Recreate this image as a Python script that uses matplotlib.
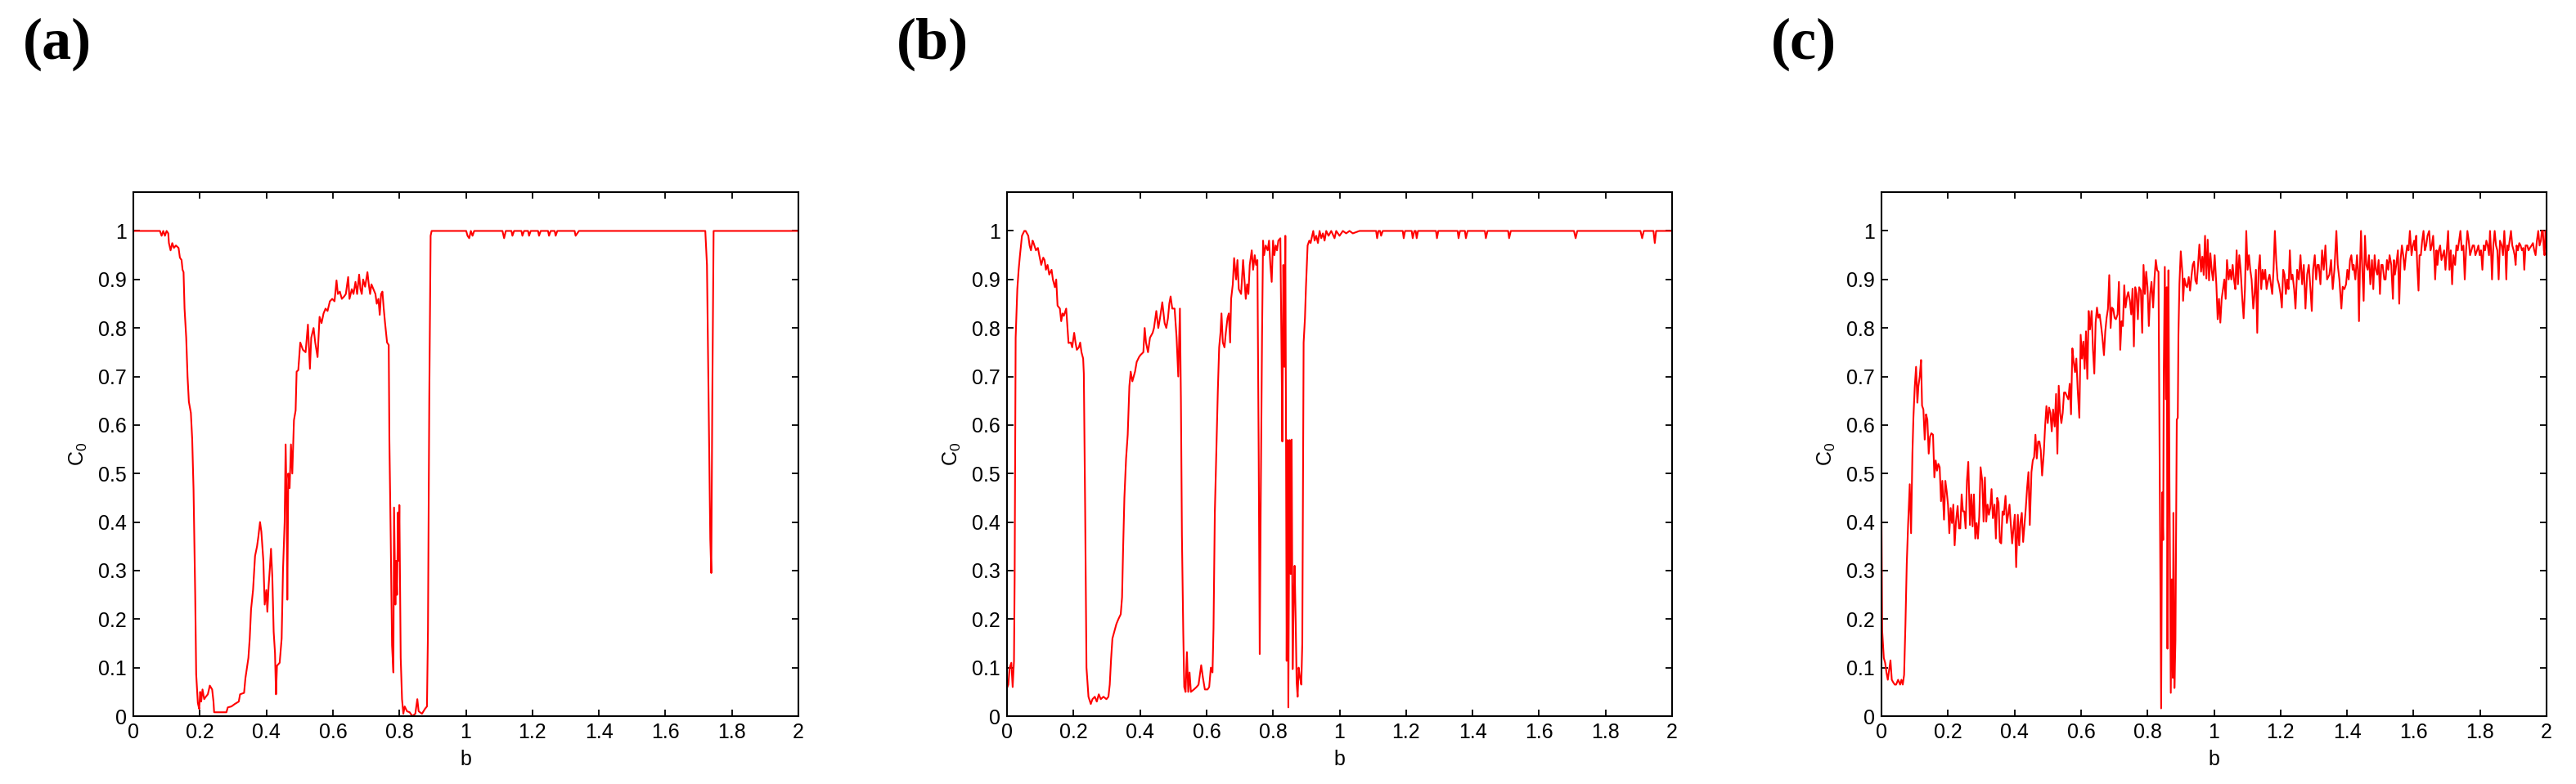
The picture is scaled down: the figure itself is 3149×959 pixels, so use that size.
import matplotlib
matplotlib.use("Agg")
from matplotlib import pyplot as plt

# (b, C0) samples
panel_a = [
    (0, 1.0), (0.08, 1.0), (0.085, 0.99), (0.09, 1.0), (0.095, 0.99), (0.1, 1.0),
    (0.105, 0.995), (0.107, 0.975), (0.112, 0.96), (0.117, 0.975), (0.122, 0.965),
    (0.128, 0.97), (0.136, 0.965), (0.14, 0.945), (0.145, 0.94), (0.148, 0.92),
    (0.151, 0.915), (0.154, 0.84), (0.159, 0.78), (0.163, 0.70), (0.167, 0.648),
    (0.173, 0.625), (0.177, 0.571), (0.181, 0.468), (0.186, 0.251), (0.189, 0.086),
    (0.194, 0.027), (0.198, 0.015), (0.201, 0.05), (0.204, 0.03), (0.208, 0.055),
    (0.213, 0.035), (0.218, 0.04), (0.224, 0.045), (0.23, 0.063), (0.237, 0.055),
    (0.241, 0.03), (0.243, 0.008), (0.28, 0.008), (0.284, 0.018), (0.295, 0.02),
    (0.305, 0.025), (0.317, 0.03), (0.321, 0.045), (0.333, 0.048), (0.337, 0.078),
    (0.346, 0.12), (0.35, 0.16), (0.354, 0.22), (0.36, 0.26), (0.366, 0.33),
    (0.372, 0.35), (0.376, 0.37), (0.381, 0.40), (0.385, 0.38), (0.391, 0.32),
    (0.395, 0.23), (0.4, 0.26), (0.403, 0.215), (0.407, 0.27), (0.411, 0.31),
    (0.414, 0.345), (0.418, 0.286), (0.422, 0.174), (0.426, 0.13), (0.429, 0.045),
    (0.432, 0.104), (0.44, 0.11), (0.446, 0.16), (0.45, 0.30), (0.455, 0.40),
    (0.458, 0.56), (0.461, 0.44), (0.463, 0.24), (0.466, 0.50), (0.47, 0.47),
    (0.474, 0.56), (0.478, 0.50), (0.483, 0.61), (0.488, 0.63), (0.491, 0.71),
    (0.496, 0.713), (0.502, 0.77), (0.51, 0.755), (0.518, 0.75), (0.525, 0.807),
    (0.531, 0.716), (0.535, 0.78), (0.542, 0.80), (0.547, 0.77), (0.554, 0.74),
    (0.56, 0.823), (0.566, 0.81), (0.572, 0.83), (0.578, 0.84), (0.584, 0.835),
    (0.591, 0.855), (0.598, 0.86), (0.605, 0.855), (0.611, 0.898), (0.615, 0.87),
    (0.621, 0.875), (0.627, 0.86), (0.634, 0.865), (0.639, 0.87), (0.646, 0.905),
    (0.65, 0.86), (0.657, 0.88), (0.662, 0.87), (0.668, 0.895), (0.673, 0.87),
    (0.679, 0.91), (0.683, 0.88), (0.687, 0.87), (0.691, 0.9), (0.697, 0.885),
    (0.704, 0.915), (0.708, 0.89), (0.712, 0.87), (0.716, 0.89), (0.722, 0.88),
    (0.728, 0.87), (0.732, 0.85), (0.737, 0.86), (0.741, 0.827), (0.745, 0.87),
    (0.749, 0.875), (0.753, 0.84), (0.757, 0.81), (0.763, 0.77), (0.768, 0.765),
    (0.77, 0.569), (0.774, 0.366), (0.778, 0.146), (0.782, 0.09), (0.784, 0.43),
    (0.788, 0.23), (0.79, 0.32), (0.793, 0.25), (0.796, 0.42), (0.798, 0.32),
    (0.8, 0.435), (0.804, 0.12), (0.808, 0.035), (0.812, 0.005), (0.816, 0.02),
    (0.823, 0.01), (0.831, 0.008), (0.839, 0.0), (0.848, 0.005), (0.854, 0.035),
    (0.858, 0.01), (0.868, 0.005), (0.877, 0.015), (0.883, 0.02), (0.886, 0.177),
    (0.89, 0.657), (0.894, 0.99), (0.897, 1.0), (1.001, 1.0), (1.005, 0.99),
    (1.01, 0.985), (1.015, 1.0), (1.02, 0.99), (1.025, 1.0), (1.11, 1.0),
    (1.115, 0.985), (1.12, 1.0), (1.137, 1.0), (1.14, 0.99), (1.145, 1.0),
    (1.167, 1.0), (1.17, 0.99), (1.175, 1.0), (1.187, 1.0), (1.19, 0.99),
    (1.195, 1.0), (1.217, 1.0), (1.22, 0.99), (1.225, 1.0), (1.247, 1.0),
    (1.25, 0.99), (1.255, 1.0), (1.267, 1.0), (1.27, 0.99), (1.275, 1.0),
    (1.327, 1.0), (1.33, 0.99), (1.335, 0.995), (1.34, 1.0), (1.72, 1.0),
    (1.725, 0.93), (1.73, 0.65), (1.735, 0.365), (1.738, 0.295), (1.741, 0.65),
    (1.745, 1.0), (2.0, 1.0),
]

panel_b = [
    (0, 0.058), (0.004, 0.065), (0.008, 0.1), (0.013, 0.11), (0.017, 0.06),
    (0.021, 0.114), (0.023, 0.286), (0.026, 0.78), (0.031, 0.88), (0.035, 0.92),
    (0.039, 0.95), (0.045, 0.99), (0.052, 1.0), (0.056, 1.0), (0.06, 0.995),
    (0.064, 0.99), (0.068, 0.97), (0.072, 0.96), (0.077, 0.98), (0.08, 0.975),
    (0.087, 0.96), (0.093, 0.965), (0.097, 0.95), (0.103, 0.93), (0.109, 0.945),
    (0.113, 0.94), (0.117, 0.92), (0.122, 0.93), (0.127, 0.91), (0.134, 0.92),
    (0.138, 0.9), (0.144, 0.884), (0.148, 0.9), (0.152, 0.846), (0.159, 0.84),
    (0.163, 0.814), (0.167, 0.83), (0.171, 0.825), (0.178, 0.84), (0.182, 0.8),
    (0.185, 0.769), (0.192, 0.77), (0.196, 0.76), (0.202, 0.79), (0.206, 0.77),
    (0.21, 0.755), (0.216, 0.76), (0.22, 0.77), (0.224, 0.75), (0.229, 0.737),
    (0.231, 0.706), (0.235, 0.426), (0.239, 0.1), (0.245, 0.04), (0.252, 0.025),
    (0.257, 0.035), (0.264, 0.04), (0.27, 0.03), (0.276, 0.045), (0.282, 0.035),
    (0.29, 0.04), (0.299, 0.035), (0.305, 0.04), (0.309, 0.065), (0.313, 0.118),
    (0.317, 0.16), (0.323, 0.175), (0.329, 0.19), (0.335, 0.2), (0.342, 0.21),
    (0.346, 0.245), (0.349, 0.34), (0.353, 0.45), (0.358, 0.53), (0.363, 0.58),
    (0.368, 0.68), (0.372, 0.71), (0.377, 0.69), (0.385, 0.71), (0.39, 0.73),
    (0.397, 0.74), (0.401, 0.744), (0.41, 0.75), (0.414, 0.8), (0.418, 0.77),
    (0.424, 0.75), (0.43, 0.78), (0.438, 0.79), (0.442, 0.8), (0.449, 0.835),
    (0.455, 0.8), (0.46, 0.82), (0.467, 0.853), (0.474, 0.81), (0.479, 0.8),
    (0.484, 0.82), (0.488, 0.85), (0.492, 0.865), (0.497, 0.84), (0.504, 0.84),
    (0.51, 0.78), (0.515, 0.7), (0.52, 0.84), (0.523, 0.653), (0.526, 0.373),
    (0.53, 0.174), (0.533, 0.06), (0.537, 0.05), (0.541, 0.132), (0.545, 0.05),
    (0.549, 0.09), (0.553, 0.05), (0.562, 0.055), (0.57, 0.06), (0.576, 0.065),
    (0.58, 0.085), (0.584, 0.105), (0.589, 0.08), (0.595, 0.055), (0.603, 0.055),
    (0.608, 0.06), (0.613, 0.1), (0.618, 0.09), (0.621, 0.18), (0.625, 0.42),
    (0.63, 0.56), (0.634, 0.67), (0.638, 0.76), (0.642, 0.79), (0.645, 0.83),
    (0.649, 0.77), (0.654, 0.76), (0.658, 0.79), (0.663, 0.82), (0.667, 0.83),
    (0.671, 0.77), (0.674, 0.86), (0.679, 0.89), (0.683, 0.944), (0.689, 0.9),
    (0.693, 0.94), (0.697, 0.88), (0.704, 0.87), (0.71, 0.94), (0.714, 0.9),
    (0.718, 0.86), (0.722, 0.89), (0.726, 0.87), (0.73, 0.93), (0.736, 0.96),
    (0.74, 0.92), (0.745, 0.95), (0.749, 0.93), (0.753, 0.94), (0.757, 0.527),
    (0.76, 0.128), (0.763, 0.44), (0.767, 0.786), (0.77, 0.98), (0.773, 0.95),
    (0.778, 0.97), (0.784, 0.96), (0.788, 0.98), (0.792, 0.93), (0.796, 0.895),
    (0.8, 0.98), (0.804, 0.95), (0.808, 0.97), (0.812, 0.96), (0.816, 0.98),
    (0.822, 0.985), (0.826, 0.72), (0.828, 0.566), (0.831, 0.93), (0.834, 0.72),
    (0.837, 0.99), (0.839, 0.597), (0.841, 0.114), (0.844, 0.569), (0.846, 0.018),
    (0.85, 0.569), (0.853, 0.293), (0.856, 0.57), (0.859, 0.097), (0.862, 0.24),
    (0.865, 0.31), (0.868, 0.2), (0.871, 0.07), (0.874, 0.04), (0.877, 0.1),
    (0.881, 0.08), (0.885, 0.065), (0.888, 0.15), (0.892, 0.77), (0.896, 0.82),
    (0.899, 0.884), (0.904, 0.97), (0.909, 0.98), (0.913, 0.975), (0.916, 0.985),
    (0.921, 1.0), (0.925, 0.98), (0.93, 0.99), (0.935, 0.975), (0.94, 1.0),
    (0.945, 0.985), (0.95, 0.995), (0.955, 0.98), (0.96, 1.0), (0.967, 0.99),
    (0.975, 1.0), (0.985, 0.985), (0.99, 1.0), (1.0, 0.99), (1.01, 1.0),
    (1.02, 0.995), (1.03, 1.0), (1.04, 0.995), (1.06, 1.0), (1.11, 1.0),
    (1.113, 0.985), (1.117, 1.0), (1.122, 1.0), (1.125, 0.99), (1.13, 1.0),
    (1.19, 1.0), (1.193, 0.985), (1.197, 1.0), (1.217, 1.0), (1.22, 0.985),
    (1.225, 1.0), (1.229, 1.0), (1.232, 0.985), (1.236, 1.0), (1.29, 1.0),
    (1.293, 0.985), (1.297, 1.0), (1.355, 1.0), (1.358, 0.985), (1.362, 1.0),
    (1.377, 1.0), (1.38, 0.985), (1.385, 1.0), (1.437, 1.0), (1.44, 0.985),
    (1.445, 1.0), (1.507, 1.0), (1.51, 0.985), (1.515, 1.0), (1.705, 1.0),
    (1.71, 0.985), (1.715, 1.0), (1.905, 1.0), (1.91, 0.985), (1.915, 1.0),
    (1.944, 1.0), (1.948, 0.975), (1.952, 1.0), (2.0, 1.0),
]

panel_c = [
    (0, 0.405), (0.002, 0.177), (0.007, 0.12), (0.011, 0.11), (0.015, 0.09),
    (0.019, 0.075), (0.023, 0.095), (0.027, 0.115), (0.031, 0.075), (0.035, 0.07),
    (0.04, 0.065), (0.044, 0.065), (0.05, 0.075), (0.056, 0.065), (0.06, 0.075),
    (0.064, 0.065), (0.068, 0.085), (0.072, 0.188), (0.076, 0.314), (0.08, 0.394),
    (0.085, 0.478), (0.089, 0.377), (0.093, 0.541), (0.096, 0.615), (0.1, 0.678),
    (0.104, 0.72), (0.108, 0.646), (0.111, 0.68), (0.115, 0.70), (0.119, 0.734),
    (0.122, 0.64), (0.126, 0.632), (0.13, 0.57), (0.134, 0.622), (0.138, 0.611),
    (0.142, 0.541), (0.146, 0.576), (0.15, 0.583), (0.155, 0.58), (0.159, 0.492),
    (0.163, 0.527), (0.167, 0.506), (0.171, 0.52), (0.175, 0.513), (0.179, 0.443),
    (0.183, 0.485), (0.188, 0.405), (0.192, 0.485), (0.196, 0.464), (0.2, 0.436),
    (0.204, 0.377), (0.208, 0.429), (0.212, 0.398), (0.216, 0.436), (0.22, 0.352),
    (0.224, 0.401), (0.229, 0.433), (0.233, 0.387), (0.237, 0.387), (0.241, 0.457),
    (0.245, 0.422), (0.249, 0.422), (0.253, 0.387), (0.257, 0.485), (0.261, 0.524),
    (0.266, 0.394), (0.27, 0.457), (0.274, 0.391), (0.278, 0.457), (0.282, 0.366),
    (0.286, 0.398), (0.29, 0.366), (0.294, 0.412), (0.298, 0.513), (0.303, 0.485),
    (0.307, 0.401), (0.311, 0.492), (0.315, 0.401), (0.319, 0.436), (0.323, 0.415),
    (0.327, 0.429), (0.331, 0.468), (0.335, 0.408), (0.34, 0.436), (0.344, 0.366),
    (0.348, 0.45), (0.352, 0.44), (0.356, 0.359), (0.36, 0.356), (0.364, 0.422),
    (0.368, 0.415), (0.373, 0.454), (0.377, 0.398), (0.381, 0.415), (0.385, 0.436),
    (0.389, 0.394), (0.393, 0.356), (0.397, 0.387), (0.401, 0.415), (0.405, 0.307),
    (0.41, 0.415), (0.414, 0.352), (0.418, 0.401), (0.422, 0.419), (0.426, 0.359),
    (0.43, 0.394), (0.434, 0.429), (0.438, 0.471), (0.442, 0.503), (0.446, 0.394),
    (0.451, 0.503), (0.455, 0.527), (0.459, 0.534), (0.463, 0.58), (0.467, 0.531),
    (0.471, 0.566), (0.475, 0.566), (0.479, 0.548), (0.483, 0.496), (0.488, 0.541),
    (0.492, 0.597), (0.496, 0.639), (0.5, 0.604), (0.504, 0.636), (0.508, 0.625),
    (0.512, 0.587), (0.516, 0.632), (0.521, 0.597), (0.525, 0.664), (0.529, 0.541),
    (0.533, 0.681), (0.537, 0.625), (0.541, 0.604), (0.545, 0.625), (0.549, 0.667),
    (0.553, 0.667), (0.557, 0.66), (0.562, 0.653), (0.566, 0.685), (0.57, 0.622),
    (0.574, 0.758), (0.578, 0.73), (0.582, 0.709), (0.586, 0.737), (0.59, 0.674),
    (0.595, 0.615), (0.599, 0.786), (0.603, 0.737), (0.607, 0.772), (0.611, 0.716),
    (0.615, 0.793), (0.619, 0.695), (0.623, 0.835), (0.627, 0.797), (0.632, 0.835),
    (0.636, 0.755), (0.64, 0.706), (0.644, 0.811), (0.648, 0.842), (0.652, 0.821),
    (0.656, 0.828), (0.66, 0.807), (0.664, 0.783), (0.669, 0.744), (0.673, 0.793),
    (0.677, 0.821), (0.681, 0.839), (0.685, 0.909), (0.689, 0.8), (0.693, 0.842),
    (0.697, 0.839), (0.701, 0.821), (0.705, 0.818), (0.71, 0.828), (0.714, 0.895),
    (0.718, 0.755), (0.722, 0.814), (0.726, 0.804), (0.73, 0.888), (0.734, 0.842),
    (0.738, 0.863), (0.742, 0.874), (0.747, 0.856), (0.751, 0.828), (0.755, 0.881),
    (0.759, 0.762), (0.763, 0.884), (0.767, 0.87), (0.771, 0.818), (0.775, 0.884),
    (0.78, 0.877), (0.784, 0.79), (0.788, 0.93), (0.792, 0.87), (0.796, 0.916),
    (0.8, 0.884), (0.804, 0.804), (0.808, 0.87), (0.812, 0.895), (0.817, 0.842),
    (0.821, 0.902), (0.825, 0.94), (0.829, 0.919), (0.833, 0.916), (0.837, 0.464),
    (0.841, 0.016), (0.844, 0.461), (0.847, 0.363), (0.849, 0.713), (0.852, 0.926),
    (0.855, 0.653), (0.858, 0.884), (0.86, 0.139), (0.863, 0.919), (0.866, 0.482),
    (0.87, 0.048), (0.873, 0.282), (0.876, 0.079), (0.878, 0.419), (0.881, 0.058),
    (0.884, 0.156), (0.888, 0.611), (0.891, 0.615), (0.893, 0.786), (0.896, 0.891),
    (0.9, 0.958), (0.905, 0.912), (0.907, 0.856), (0.911, 0.902), (0.915, 0.888),
    (0.919, 0.884), (0.924, 0.905), (0.928, 0.877), (0.932, 0.905), (0.936, 0.93),
    (0.94, 0.937), (0.944, 0.898), (0.948, 0.891), (0.952, 0.93), (0.956, 0.972),
    (0.961, 0.916), (0.965, 0.947), (0.969, 0.909), (0.973, 0.99), (0.977, 0.902),
    (0.981, 0.982), (0.985, 0.898), (0.989, 0.954), (0.993, 0.919), (0.997, 0.898),
    (1.002, 0.95), (1.007, 0.89), (1.011, 0.818), (1.015, 0.86), (1.019, 0.811),
    (1.023, 0.86), (1.027, 0.88), (1.031, 0.9), (1.035, 0.86), (1.039, 0.94),
    (1.044, 0.9), (1.048, 0.92), (1.052, 0.9), (1.056, 0.93), (1.06, 0.9),
    (1.064, 0.88), (1.068, 0.96), (1.072, 0.89), (1.076, 0.95), (1.08, 0.92),
    (1.085, 0.86), (1.089, 0.82), (1.093, 0.88), (1.097, 1.0), (1.101, 0.92),
    (1.105, 0.95), (1.109, 0.92), (1.113, 0.9), (1.118, 0.84), (1.122, 0.87),
    (1.126, 0.92), (1.13, 0.79), (1.134, 0.92), (1.138, 0.95), (1.142, 0.88),
    (1.146, 0.92), (1.15, 0.9), (1.154, 0.92), (1.158, 0.88), (1.163, 0.9),
    (1.167, 0.91), (1.171, 0.89), (1.175, 0.87), (1.179, 0.92), (1.183, 1.0),
    (1.187, 0.94), (1.191, 0.9), (1.195, 0.89), (1.2, 0.87), (1.204, 0.842),
    (1.208, 0.92), (1.212, 0.91), (1.216, 0.87), (1.22, 0.9), (1.224, 0.88),
    (1.228, 0.96), (1.232, 0.9), (1.236, 0.91), (1.241, 0.88), (1.245, 0.84),
    (1.25, 0.92), (1.255, 0.9), (1.26, 0.95), (1.265, 0.89), (1.27, 0.93),
    (1.275, 0.84), (1.28, 0.91), (1.285, 0.93), (1.29, 0.88), (1.294, 0.835),
    (1.298, 0.92), (1.303, 0.95), (1.307, 0.9), (1.311, 0.93), (1.315, 0.93),
    (1.32, 0.89), (1.325, 0.96), (1.33, 0.92), (1.335, 0.97), (1.34, 0.9),
    (1.347, 0.91), (1.352, 0.94), (1.357, 0.88), (1.362, 0.92), (1.368, 1.0),
    (1.372, 0.93), (1.377, 0.9), (1.383, 0.84), (1.387, 0.885), (1.392, 0.88),
    (1.397, 0.89), (1.401, 0.92), (1.405, 0.9), (1.409, 0.94), (1.413, 0.95),
    (1.417, 0.92), (1.42, 0.93), (1.425, 0.9), (1.43, 0.95), (1.433, 0.92),
    (1.436, 0.814), (1.439, 0.93), (1.442, 1.0), (1.446, 0.92), (1.45, 0.856),
    (1.454, 0.99), (1.458, 0.93), (1.462, 0.92), (1.466, 0.95), (1.47, 0.89),
    (1.475, 0.94), (1.479, 0.88), (1.483, 0.95), (1.487, 0.92), (1.491, 0.91),
    (1.495, 0.94), (1.499, 0.87), (1.503, 0.93), (1.507, 0.93), (1.512, 0.9),
    (1.516, 0.9), (1.52, 0.94), (1.524, 0.92), (1.528, 0.95), (1.533, 0.93),
    (1.538, 0.86), (1.541, 0.94), (1.544, 0.91), (1.548, 0.93), (1.553, 0.96),
    (1.557, 0.85), (1.561, 0.94), (1.565, 0.97), (1.569, 0.95), (1.573, 0.92),
    (1.577, 0.95), (1.581, 0.97), (1.585, 0.96), (1.589, 1.0), (1.594, 0.95),
    (1.598, 0.97), (1.602, 0.98), (1.605, 0.96), (1.608, 0.99), (1.611, 0.93),
    (1.615, 0.877), (1.618, 0.95), (1.622, 0.95), (1.626, 0.98), (1.63, 1.0),
    (1.634, 0.96), (1.638, 0.97), (1.642, 0.99), (1.647, 1.0), (1.651, 0.96),
    (1.655, 0.97), (1.659, 0.99), (1.662, 0.95), (1.665, 0.9), (1.669, 0.96),
    (1.672, 0.93), (1.676, 0.96), (1.68, 0.97), (1.684, 0.94), (1.688, 0.95),
    (1.692, 0.96), (1.696, 0.92), (1.7, 0.96), (1.704, 1.0), (1.708, 0.92),
    (1.712, 0.96), (1.716, 0.89), (1.72, 0.95), (1.725, 0.93), (1.729, 0.97),
    (1.733, 0.96), (1.737, 0.98), (1.741, 1.0), (1.745, 0.96), (1.75, 0.97),
    (1.754, 0.9), (1.758, 0.96), (1.762, 1.0), (1.766, 0.98), (1.77, 0.95),
    (1.774, 0.96), (1.778, 0.97), (1.782, 0.97), (1.786, 0.95), (1.791, 0.96),
    (1.795, 0.97), (1.799, 0.95), (1.803, 0.96), (1.807, 0.92), (1.811, 0.97),
    (1.815, 0.96), (1.819, 0.98), (1.823, 0.97), (1.827, 0.95), (1.83, 1.0),
    (1.833, 0.96), (1.836, 0.9), (1.84, 0.97), (1.844, 1.0), (1.848, 0.97),
    (1.852, 0.96), (1.856, 0.9), (1.86, 0.98), (1.865, 0.97), (1.869, 0.95),
    (1.873, 1.0), (1.876, 0.96), (1.879, 0.9), (1.882, 0.97), (1.885, 0.96),
    (1.889, 0.98), (1.893, 1.0), (1.897, 0.97), (1.901, 0.96), (1.904, 0.95),
    (1.907, 0.93), (1.91, 0.97), (1.914, 0.96), (1.918, 0.975), (1.922, 0.97),
    (1.926, 0.96), (1.93, 0.965), (1.933, 0.92), (1.937, 0.97), (1.942, 0.97),
    (1.946, 0.96), (1.95, 0.965), (1.955, 0.97), (1.959, 0.975), (1.963, 0.96),
    (1.967, 0.95), (1.971, 0.98), (1.975, 1.0), (1.979, 0.97), (1.983, 0.98),
    (1.986, 1.0), (1.989, 1.0), (1.992, 0.96), (1.994, 0.95), (1.997, 1.0),
    (2.0, 0.97),
]

panel_tags = ["(a)", "(b)", "(c)"]
x_ticks = [0, 0.2, 0.4, 0.6, 0.8, 1, 1.2, 1.4, 1.6, 1.8, 2]
y_ticks = [0, 0.1, 0.2, 0.3, 0.4, 0.5, 0.6, 0.7, 0.8, 0.9, 1]

W, H = 3149, 959
fig = plt.figure(figsize=(W / 100, H / 100), dpi=100)
plt.rcParams['font.family'] = ['Liberation Sans', 'DejaVu Sans']

lefts = [163, 1231, 2300]
for i, data in enumerate([panel_a, panel_b, panel_c]):
    ax = fig.add_axes([lefts[i] / W, 1 - 876 / H, 813 / W, 641 / H])
    b, c0 = zip(*data)
    ax.plot(b, c0, color='#ff0000', lw=1.5)
    ax.set_xlim(0, 2)
    ax.set_ylim(0, 1.08)
    ax.set_xticks(x_ticks)
    ax.set_xticklabels([f"{t:g}" for t in x_ticks])
    ax.set_yticks(y_ticks)
    ax.set_yticklabels([f"{t:g}" for t in y_ticks])
    ax.tick_params(direction='in', length=6, width=1.3, labelsize=18,
                   top=True, right=True, pad=6)
    for s in ax.spines.values():
        s.set_linewidth(1.5)
    ax.set_xlabel('b', fontsize=18, labelpad=6)
    ax.set_ylabel(r'$\mathregular{C_0}$', fontsize=18, labelpad=8)
    fig.text((lefts[i] - 135) / W, 1 - 22 / H, panel_tags[i], fontsize=52,
             fontweight='bold', family='Liberation Serif', va='top', ha='left')

fig.savefig('out.png', dpi=100)
